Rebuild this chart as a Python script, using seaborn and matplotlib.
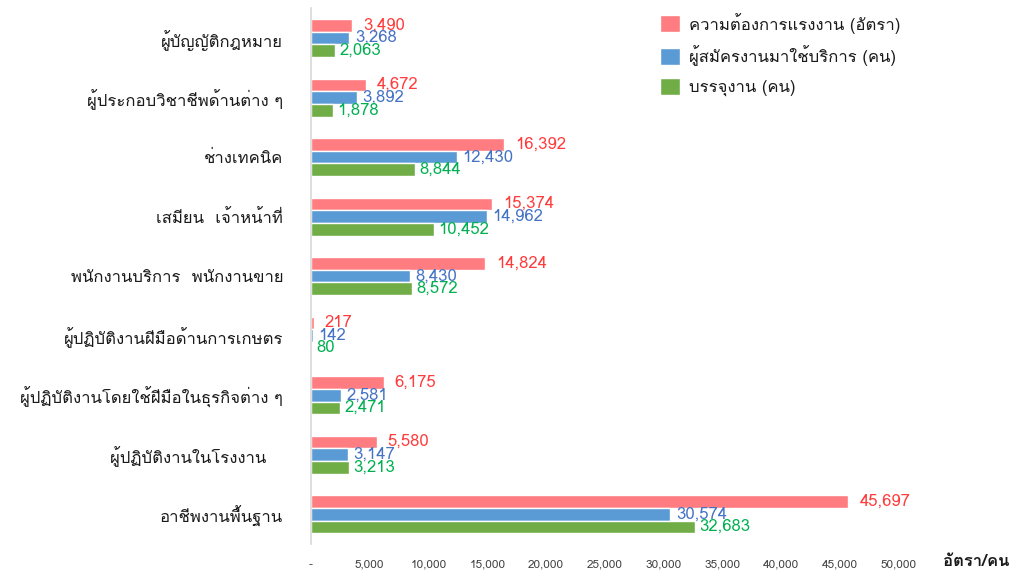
import matplotlib
matplotlib.use("Agg")
import matplotlib.pyplot as plt
import seaborn as sns
import pandas as pd
from matplotlib import font_manager
from matplotlib.ft2font import FT2Font
from matplotlib.ticker import FuncFormatter

categories = [
    "ผู้บัญญัติกฎหมาย",
    "ผู้ประกอบวิชาชีพด้านต่าง ๆ",
    "ช่างเทคนิค",
    "เสมียน  เจ้าหน้าที่",
    "พนักงานบริการ  พนักงานขาย",
    "ผู้ปฏิบัติงานฝีมือด้านการเกษตร",
    "ผู้ปฏิบัติงานโดยใช้ฝีมือในธุรกิจต่าง ๆ",
    "ผู้ปฏิบัติงานในโรงงาน   ",
    "อาชีพงานพื้นฐาน",
]
series_names = ["ความต้องการแรงงาน (อัตรา)", "ผู้สมัครงานมาใช้บริการ (คน)", "บรรจุงาน (คน)"]
demand = [3490, 4672, 16392, 15374, 14824, 217, 6175, 5580, 45697]
applicants = [3268, 3892, 12430, 14962, 8430, 142, 2581, 3147, 30574]
placed = [2063, 1878, 8844, 10452, 8572, 80, 2471, 3213, 32683]
x_ticks = [0, 5000, 10000, 15000, 20000, 25000, 30000, 35000, 40000, 45000, 50000]
x_unit = "อัตรา/คน"

bar_colors = ["#FF7C80", "#5B9BD5", "#70AD47"]
label_colors = ["#FF3B3B", "#4472C4", "#00B050"]

# find a font with Thai glyphs
thai_font = None
for f in font_manager.fontManager.ttflist:
    try:
        cm = FT2Font(f.fname).get_charmap()
        if 0x0E01 in cm and 0x0E49 in cm:
            thai_font = f.name
            break
    except Exception:
        pass

sns.set_theme(style="white")
fams = ([thai_font] if thai_font else []) + ["DejaVu Sans"]
plt.rcParams["font.family"] = fams

rows = []
for name, vals in zip(series_names, [demand, applicants, placed]):
    for c, v in zip(categories, vals):
        rows.append({"cat": c, "value": v, "series": name})
df = pd.DataFrame(rows)

fig = plt.figure(figsize=(10.15, 5.76), dpi=100)
ax = fig.add_axes([0.3064, 0.0556, 0.637, 0.93])
sns.barplot(data=df, y="cat", x="value", hue="series", orient="h",
            palette=bar_colors, order=categories, hue_order=series_names,
            width=0.64, gap=0, ax=ax, saturation=1, legend=True)

for cont, col, pad in zip(ax.containers, label_colors, [8, 4, 3]):
    ax.bar_label(cont, labels=[f"{int(b.get_width()):,}" for b in cont],
                 padding=pad, color=col, fontsize=12)

ax.set_xlim(0, 55000)
ax.set_xticks(x_ticks)
ax.xaxis.set_major_formatter(FuncFormatter(lambda v, p: "-" if v == 0 else f"{int(v):,}"))
ax.tick_params(axis="x", labelsize=8.5, colors="#404040", length=0, pad=11)
ax.tick_params(axis="y", labelsize=12, colors="#1a1a1a", length=0, pad=20)
ax.set_xlabel("")
ax.set_ylabel("")
for s in ["top", "right", "bottom"]:
    ax.spines[s].set_visible(False)
ax.spines["left"].set_color("#D9D9D9")
ax.spines["left"].set_linewidth(1.2)
ax.grid(False)

leg = ax.legend(loc="upper left", bbox_to_anchor=(0.517, 1.02), frameon=False,
                fontsize=12, handlelength=1.2, handleheight=1.2,
                labelspacing=0.7, handletextpad=0.5)
for t in leg.get_texts():
    t.set_color("#1a1a1a")

fig.text(0.995, 0.025, x_unit, ha="right", va="center", fontsize=12,
         fontweight="bold", color="#1a1a1a")

fig.savefig("out.png", dpi=100)
